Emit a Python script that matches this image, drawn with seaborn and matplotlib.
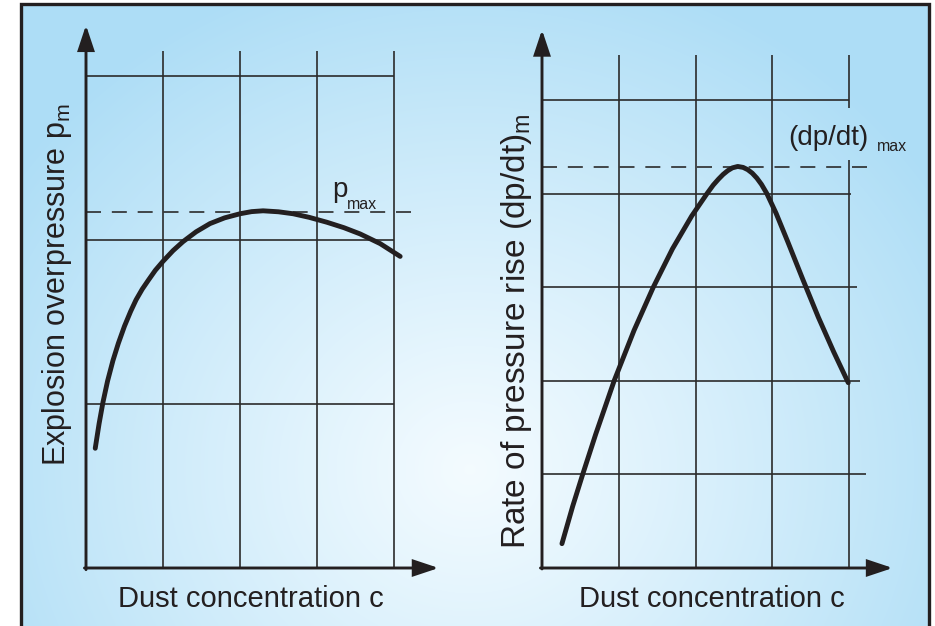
import numpy as np
import pandas as pd
import matplotlib
matplotlib.use("Agg")
import matplotlib.pyplot as plt
import seaborn as sns

# ---------------- data ----------------
# Left panel: explosion overpressure vs dust concentration (arbitrary units)
left_conc = [0.12, 0.17, 0.22, 0.28, 0.35, 0.42, 0.50, 0.58, 0.65, 0.73, 0.81, 0.90, 1.00,
             1.13, 1.26, 1.43, 1.61, 1.80, 2.00, 2.15, 2.30, 2.50, 2.69, 2.90, 3.13, 3.35,
             3.56, 3.82, 4.08]
left_pressure = [0.73, 0.88, 1.01, 1.14, 1.265, 1.37, 1.475, 1.565, 1.635, 1.70, 1.755, 1.815,
                 1.87, 1.935, 1.99, 2.05, 2.10, 2.135, 2.16, 2.173, 2.178, 2.172, 2.16, 2.138,
                 2.108, 2.075, 2.037, 1.978, 1.90]
p_max_level = 2.17

# Right panel: rate of pressure rise vs dust concentration (arbitrary units)
right_conc = [0.26, 0.40, 0.53, 0.70, 0.94, 1.20, 1.45, 1.70, 1.95, 2.15, 2.23, 2.30, 2.36,
              2.42, 2.48, 2.55, 2.62, 2.68, 2.74, 2.80, 2.86, 2.93, 3.05, 3.20, 3.40, 3.60,
              3.80, 3.99]
right_rate = [0.26, 0.66, 1.00, 1.43, 2.00, 2.54, 3.00, 3.41, 3.76, 4.00, 4.09, 4.155, 4.205,
              4.245, 4.275, 4.29, 4.28, 4.256, 4.218, 4.165, 4.098, 4.00, 3.79, 3.49, 3.08,
              2.68, 2.31, 1.98]
dpdt_max_level = 4.28

left_xgrid = [1, 2, 3, 4]
left_ygrid = [1, 2, 3]
right_xgrid = [1, 2, 3, 4]
right_ygrid = [1, 2, 3, 4, 5]
right_ygrid_extent = [4.22, 4.14, 4.10, 4.02, 4.0]

xlabel_text = "Dust concentration c"
left_ylabel = "Explosion overpressure p$_{\\mathrm{m}}$"
right_ylabel = "Rate of pressure rise (dp/dt)$_{\\mathrm{m}}$"

# ---------------- style ----------------
sns.set_theme(style="white")
plt.rcParams["font.family"] = ["Liberation Sans", "DejaVu Sans"]
plt.rcParams["mathtext.fontset"] = "custom"
plt.rcParams["mathtext.rm"] = "Liberation Sans"
plt.rcParams["mathtext.it"] = "Liberation Sans:italic"
plt.rcParams["mathtext.bf"] = "Liberation Sans:bold"

W, H = 935, 626
fig = plt.figure(figsize=(W / 100, H / 100), dpi=100)
fig.patch.set_facecolor("white")

INK = "#231f20"
GRID = "#2b2b2b"

# ---------------- background ----------------
bg = fig.add_axes([0, 0, 1, 1], zorder=-10)
bg.set_xlim(0, W)
bg.set_ylim(H, 0)
bg.axis("off")
fx0, fx1, fy0, fy1 = 21, 929, 4, 626
gx = np.linspace(fx0, fx1, 400)
gy = np.linspace(fy0, fy1, 300)
GX, GY = np.meshgrid(gx, gy)
r = np.sqrt(((GX - 470) / 560) ** 2 + ((GY - 470) / 520) ** 2)
t = np.clip(r, 0, 1) ** 1.1
edge = np.array([0.68, 0.868, 0.965])
center = np.array([0.955, 0.985, 1.0])
img = center[None, None, :] * (1 - t[..., None]) + edge[None, None, :] * t[..., None]
bg.imshow(img, extent=(fx0, fx1, fy1, fy0), aspect="auto", interpolation="bilinear")
bg.plot([fx0, fx0, fx1, fx1], [fy1 + 5, fy0, fy0, fy1 + 5], color=INK, lw=2.4,
        solid_joinstyle="miter", clip_on=False)


def make_axes(ox, oy, right_px, top_px):
    ax = fig.add_axes([ox / W, (H - oy) / H, (right_px - ox) / W, (oy - top_px) / H])
    ax.patch.set_alpha(0)
    return ax


def axis_arrows(ax, xtip, ytip):
    props = dict(arrowstyle="-|>,head_length=1.5,head_width=0.5", lw=2.1, color=INK,
                 shrinkA=0, shrinkB=0, mutation_scale=10, joinstyle="miter")
    ax.annotate("", xy=(xtip, 0), xytext=(-0.02, 0), arrowprops=props, annotation_clip=False)
    ax.annotate("", xy=(0, ytip), xytext=(0, -0.01), arrowprops=props, annotation_clip=False)


# ---------------- left panel ----------------
axL = make_axes(86, 568, 450, 15)
axL.vlines(left_xgrid, 0, 3.15, color=GRID, lw=1.2)
axL.hlines(left_ygrid, 0, 4, color=GRID, lw=1.2)
axL.plot([0, 4.29], [p_max_level, p_max_level], color=GRID, lw=1.2, dashes=(9, 6.5))
dfL = pd.DataFrame({"c": left_conc, "p": left_pressure})
sns.lineplot(data=dfL, x="c", y="p", ax=axL, color=INK, lw=3.5, sort=False,
             solid_capstyle="round", solid_joinstyle="round", legend=False)
axis_arrows(axL, 4.58, 3.31)
axL.set_xlim(0, (450 - 86) / 77.0)
axL.set_ylim(0, (568 - 15) / 164.0)
axL.axis("off")

# ---------------- right panel ----------------
axR = make_axes(542, 568, 900, 15)
axR.vlines(right_xgrid[:-1], 0, 5.48, color=GRID, lw=1.2)
axR.vlines([right_xgrid[-1]], 0, 4.36, color=GRID, lw=1.2)
axR.vlines([right_xgrid[-1]], 4.91, 5.48, color=GRID, lw=1.2)
for yv, ext in zip(right_ygrid, right_ygrid_extent):
    axR.hlines(yv, 0, ext, color=GRID, lw=1.2)
axR.plot([0, 4.27], [dpdt_max_level, dpdt_max_level], color=GRID, lw=1.2, dashes=(9, 6.5))
dfR = pd.DataFrame({"c": right_conc, "r": right_rate})
sns.lineplot(data=dfR, x="c", y="r", ax=axR, color=INK, lw=3.5, sort=False,
             solid_capstyle="round", solid_joinstyle="round", legend=False)
axis_arrows(axR, 4.57, 5.75)
axR.set_xlim(0, (900 - 542) / 76.75)
axR.set_ylim(0, (568 - 15) / 93.6)
axR.axis("off")

# ---------------- texts ----------------
def ftext(x, y, s, **kw):
    fig.text(x / W, 1 - y / H, s, color=INK, **kw)

ftext(251, 607, xlabel_text, fontsize=21, ha="center", va="baseline")
ftext(712, 607, xlabel_text, fontsize=21, ha="center", va="baseline")
ftext(57, 285, left_ylabel, fontsize=22, ha="center", va="center", rotation=90)
ftext(516, 331, right_ylabel, fontsize=24, ha="center", va="center", rotation=90)

ftext(332, 197, "p", fontsize=20, ha="left", va="baseline")
ftext(347, 209, "max", fontsize=11.5, ha="left", va="baseline")
ftext(788, 145, "(dp/dt)", fontsize=20, ha="left", va="baseline")
ftext(877, 151, "max", fontsize=11.5, ha="left", va="baseline")

fig.savefig("out.png", dpi=100)
